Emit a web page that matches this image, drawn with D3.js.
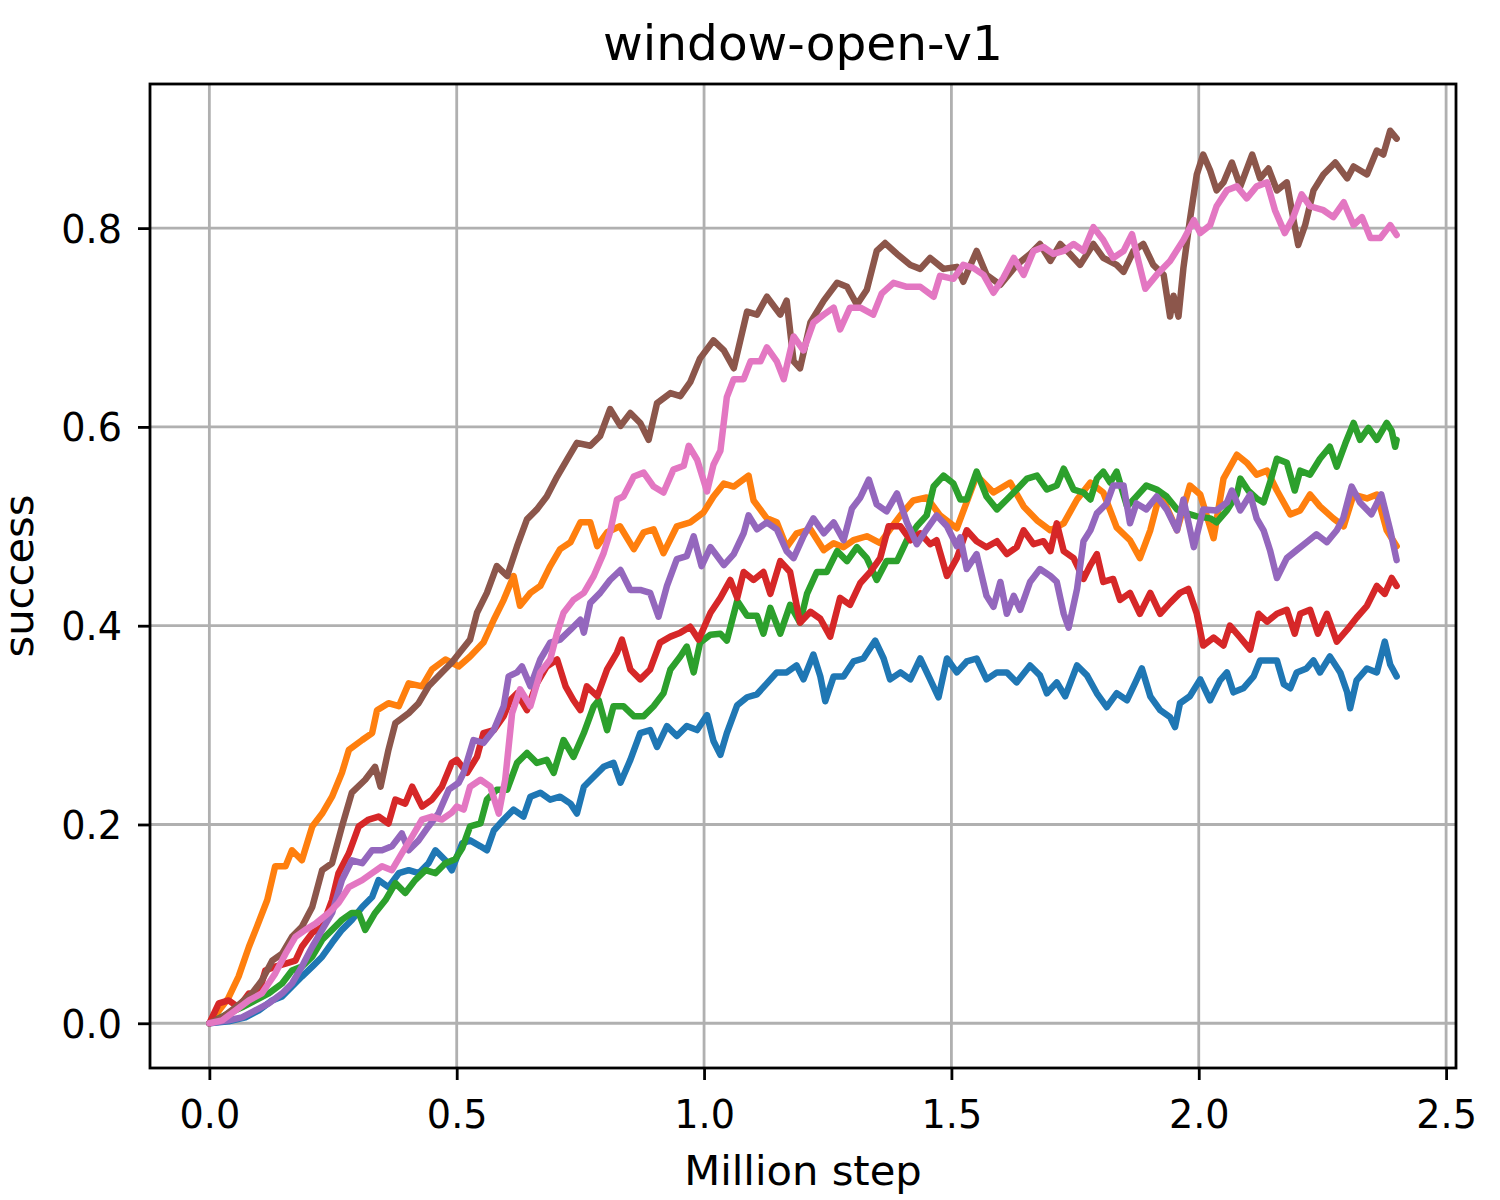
<!DOCTYPE html>
<html><head><meta charset="utf-8">
<script src="https://cdn.jsdelivr.net/npm/d3@7/dist/d3.min.js"></script>
<style>body{margin:0;background:#fff;} text{font-family:"DejaVu Sans",sans-serif;fill:#000;}</style>
</head><body><svg id="c" width="1500" height="1200"></svg>
<script>
const chartTitle = "window-open-v1";
const xLabel = "Million step";
const yLabel = "success";
const xTicks = [0, 0.5, 1.0, 1.5, 2.0, 2.5];
const yTicks = [0, 0.2, 0.4, 0.6, 0.8];
const colors = ["#1f77b4","#ff7f0e","#2ca02c","#d62728","#9467bd","#8c564b","#e377c2"];

const blue = [[0,0],[0.039,0.002],[0.073,0.006],[0.1,0.013],[0.127,0.023],[0.147,0.027],[0.167,0.037],[0.187,0.047],[0.208,0.057],[0.228,0.067],[0.248,0.081],[0.268,0.094],[0.288,0.104],[0.309,0.117],[0.329,0.127],[0.342,0.144],[0.362,0.137],[0.383,0.151],[0.403,0.154],[0.423,0.151],[0.443,0.161],[0.457,0.174],[0.477,0.164],[0.49,0.154],[0.511,0.181],[0.527,0.184],[0.548,0.178],[0.561,0.174],[0.575,0.194],[0.595,0.205],[0.615,0.215],[0.635,0.208],[0.649,0.228],[0.669,0.232],[0.689,0.225],[0.709,0.228],[0.73,0.221],[0.743,0.211],[0.757,0.238],[0.777,0.248],[0.797,0.258],[0.817,0.262],[0.831,0.242],[0.851,0.265],[0.871,0.292],[0.891,0.295],[0.905,0.278],[0.925,0.299],[0.945,0.289],[0.965,0.299],[0.986,0.295],[1.006,0.31],[1.019,0.284],[1.033,0.27],[1.046,0.292],[1.067,0.32],[1.087,0.328],[1.107,0.331],[1.127,0.342],[1.147,0.353],[1.167,0.353],[1.187,0.36],[1.201,0.346],[1.221,0.371],[1.235,0.349],[1.245,0.324],[1.262,0.349],[1.282,0.349],[1.302,0.364],[1.322,0.367],[1.346,0.385],[1.363,0.367],[1.376,0.346],[1.397,0.353],[1.417,0.346],[1.437,0.367],[1.457,0.346],[1.474,0.328],[1.491,0.367],[1.511,0.353],[1.531,0.364],[1.551,0.367],[1.571,0.346],[1.592,0.353],[1.612,0.353],[1.632,0.343],[1.659,0.36],[1.679,0.35],[1.693,0.332],[1.713,0.343],[1.73,0.329],[1.754,0.36],[1.774,0.35],[1.794,0.332],[1.814,0.318],[1.834,0.332],[1.855,0.325],[1.872,0.343],[1.885,0.357],[1.902,0.329],[1.922,0.315],[1.942,0.308],[1.952,0.298],[1.962,0.322],[1.982,0.329],[2.003,0.346],[2.023,0.325],[2.043,0.345],[2.057,0.353],[2.07,0.333],[2.09,0.337],[2.111,0.349],[2.124,0.365],[2.144,0.365],[2.158,0.365],[2.172,0.341],[2.185,0.337],[2.198,0.353],[2.218,0.357],[2.232,0.365],[2.245,0.353],[2.265,0.369],[2.286,0.353],[2.3,0.333],[2.306,0.317],[2.319,0.345],[2.34,0.357],[2.36,0.353],[2.376,0.384],[2.387,0.361],[2.4,0.349]];

const orange = [[0,0],[0.038,0.025],[0.059,0.047],[0.08,0.077],[0.096,0.097],[0.117,0.124],[0.133,0.158],[0.154,0.158],[0.167,0.174],[0.187,0.164],[0.208,0.198],[0.228,0.211],[0.248,0.228],[0.268,0.252],[0.282,0.275],[0.309,0.285],[0.329,0.292],[0.339,0.315],[0.362,0.322],[0.383,0.319],[0.403,0.342],[0.43,0.339],[0.45,0.356],[0.477,0.366],[0.504,0.359],[0.527,0.369],[0.554,0.383],[0.575,0.406],[0.595,0.426],[0.615,0.45],[0.628,0.42],[0.649,0.433],[0.669,0.44],[0.689,0.46],[0.709,0.477],[0.73,0.484],[0.75,0.504],[0.77,0.504],[0.784,0.48],[0.804,0.494],[0.83,0.5],[0.858,0.477],[0.878,0.494],[0.898,0.497],[0.918,0.473],[0.945,0.5],[0.972,0.504],[0.999,0.514],[1.019,0.53],[1.04,0.543],[1.06,0.54],[1.09,0.551],[1.1,0.526],[1.127,0.508],[1.147,0.504],[1.167,0.479],[1.187,0.493],[1.215,0.497],[1.242,0.476],[1.262,0.483],[1.282,0.479],[1.302,0.486],[1.329,0.49],[1.356,0.483],[1.376,0.497],[1.397,0.511],[1.423,0.526],[1.45,0.529],[1.477,0.511],[1.511,0.498],[1.551,0.551],[1.585,0.534],[1.619,0.544],[1.646,0.52],[1.673,0.506],[1.7,0.496],[1.727,0.503],[1.754,0.527],[1.781,0.544],[1.807,0.534],[1.834,0.499],[1.861,0.486],[1.881,0.468],[1.902,0.496],[1.922,0.534],[1.956,0.496],[1.982,0.541],[2.003,0.532],[2.03,0.488],[2.05,0.548],[2.077,0.572],[2.097,0.564],[2.117,0.552],[2.138,0.556],[2.158,0.536],[2.185,0.512],[2.205,0.516],[2.225,0.532],[2.245,0.52],[2.272,0.508],[2.293,0.5],[2.313,0.532],[2.34,0.528],[2.36,0.532],[2.38,0.496],[2.4,0.48]];

const green = [[0,0],[0.039,0.01],[0.066,0.016],[0.093,0.023],[0.12,0.03],[0.147,0.04],[0.167,0.053],[0.187,0.057],[0.208,0.067],[0.228,0.084],[0.248,0.094],[0.268,0.104],[0.288,0.111],[0.302,0.111],[0.315,0.094],[0.335,0.111],[0.356,0.124],[0.376,0.141],[0.396,0.131],[0.416,0.144],[0.437,0.154],[0.457,0.151],[0.477,0.161],[0.497,0.165],[0.511,0.176],[0.527,0.198],[0.548,0.201],[0.561,0.225],[0.581,0.235],[0.602,0.235],[0.622,0.262],[0.642,0.272],[0.662,0.262],[0.682,0.265],[0.696,0.252],[0.716,0.285],[0.736,0.268],[0.757,0.292],[0.777,0.319],[0.787,0.325],[0.804,0.295],[0.817,0.319],[0.837,0.319],[0.858,0.309],[0.878,0.309],[0.898,0.319],[0.918,0.332],[0.932,0.356],[0.952,0.369],[0.965,0.379],[0.979,0.353],[0.992,0.383],[1.013,0.391],[1.033,0.392],[1.046,0.385],[1.067,0.425],[1.087,0.41],[1.107,0.41],[1.12,0.392],[1.134,0.418],[1.154,0.392],[1.174,0.421],[1.194,0.403],[1.208,0.432],[1.228,0.454],[1.248,0.454],[1.269,0.475],[1.289,0.465],[1.309,0.479],[1.329,0.468],[1.349,0.446],[1.369,0.465],[1.39,0.465],[1.41,0.486],[1.43,0.5],[1.45,0.511],[1.464,0.54],[1.484,0.551],[1.504,0.543],[1.518,0.527],[1.531,0.527],[1.551,0.555],[1.571,0.53],[1.592,0.517],[1.612,0.527],[1.632,0.537],[1.653,0.548],[1.673,0.551],[1.693,0.537],[1.713,0.541],[1.727,0.558],[1.747,0.537],[1.767,0.534],[1.781,0.527],[1.794,0.548],[1.807,0.555],[1.821,0.544],[1.834,0.555],[1.855,0.52],[1.874,0.53],[1.894,0.541],[1.915,0.537],[1.935,0.53],[1.956,0.517],[1.976,0.513],[1.996,0.51],[2.023,0.508],[2.036,0.504],[2.057,0.516],[2.077,0.532],[2.084,0.548],[2.1,0.536],[2.117,0.528],[2.131,0.524],[2.144,0.544],[2.158,0.568],[2.178,0.564],[2.194,0.536],[2.205,0.556],[2.225,0.552],[2.245,0.568],[2.265,0.58],[2.279,0.56],[2.296,0.583],[2.313,0.604],[2.326,0.587],[2.343,0.599],[2.36,0.587],[2.38,0.604],[2.39,0.596],[2.397,0.58],[2.4,0.587]];

const red = [[0,0],[0.019,0.02],[0.039,0.023],[0.059,0.016],[0.08,0.03],[0.1,0.03],[0.113,0.053],[0.133,0.057],[0.154,0.06],[0.174,0.063],[0.187,0.077],[0.208,0.091],[0.228,0.097],[0.248,0.124],[0.261,0.151],[0.282,0.171],[0.302,0.198],[0.322,0.205],[0.342,0.208],[0.362,0.201],[0.376,0.225],[0.396,0.221],[0.41,0.238],[0.43,0.218],[0.45,0.225],[0.47,0.238],[0.49,0.262],[0.5,0.265],[0.521,0.252],[0.541,0.268],[0.554,0.292],[0.575,0.295],[0.595,0.309],[0.608,0.325],[0.622,0.332],[0.642,0.315],[0.662,0.342],[0.682,0.359],[0.703,0.366],[0.72,0.339],[0.736,0.325],[0.75,0.315],[0.763,0.339],[0.784,0.329],[0.804,0.356],[0.824,0.373],[0.834,0.386],[0.851,0.356],[0.871,0.346],[0.891,0.356],[0.911,0.383],[0.932,0.389],[0.952,0.393],[0.972,0.399],[0.989,0.386],[1.013,0.413],[1.033,0.428],[1.053,0.446],[1.067,0.428],[1.08,0.454],[1.1,0.446],[1.12,0.454],[1.134,0.432],[1.154,0.465],[1.174,0.454],[1.194,0.403],[1.215,0.414],[1.235,0.407],[1.255,0.389],[1.275,0.428],[1.295,0.421],[1.316,0.443],[1.336,0.454],[1.356,0.468],[1.373,0.5],[1.397,0.5],[1.417,0.486],[1.437,0.493],[1.457,0.482],[1.47,0.486],[1.491,0.45],[1.511,0.468],[1.531,0.496],[1.551,0.485],[1.571,0.479],[1.592,0.485],[1.612,0.472],[1.632,0.479],[1.646,0.496],[1.666,0.482],[1.686,0.485],[1.7,0.475],[1.713,0.503],[1.727,0.475],[1.747,0.468],[1.767,0.447],[1.781,0.461],[1.794,0.472],[1.807,0.444],[1.827,0.447],[1.841,0.426],[1.861,0.433],[1.881,0.412],[1.902,0.433],[1.922,0.412],[1.942,0.423],[1.962,0.433],[1.979,0.437],[1.996,0.412],[2.009,0.38],[2.03,0.388],[2.05,0.38],[2.063,0.4],[2.084,0.388],[2.104,0.376],[2.121,0.412],[2.138,0.404],[2.158,0.412],[2.178,0.416],[2.194,0.392],[2.205,0.412],[2.225,0.416],[2.241,0.392],[2.259,0.412],[2.279,0.384],[2.3,0.396],[2.319,0.408],[2.34,0.42],[2.36,0.44],[2.376,0.432],[2.39,0.448],[2.4,0.44]];

const purple = [[0,0],[0.039,0.003],[0.066,0.006],[0.093,0.013],[0.12,0.02],[0.147,0.03],[0.167,0.04],[0.187,0.057],[0.208,0.077],[0.228,0.094],[0.248,0.111],[0.268,0.144],[0.288,0.164],[0.309,0.161],[0.329,0.174],[0.349,0.174],[0.369,0.178],[0.389,0.191],[0.403,0.174],[0.423,0.184],[0.443,0.198],[0.463,0.211],[0.484,0.235],[0.504,0.242],[0.514,0.252],[0.534,0.285],[0.554,0.282],[0.575,0.295],[0.595,0.319],[0.605,0.349],[0.622,0.353],[0.632,0.359],[0.649,0.339],[0.669,0.366],[0.689,0.383],[0.709,0.386],[0.73,0.396],[0.75,0.406],[0.757,0.393],[0.77,0.423],[0.79,0.433],[0.81,0.446],[0.831,0.456],[0.851,0.436],[0.871,0.436],[0.891,0.433],[0.908,0.409],[0.925,0.44],[0.945,0.467],[0.965,0.47],[0.979,0.49],[0.995,0.46],[1.013,0.479],[1.04,0.461],[1.06,0.472],[1.08,0.493],[1.09,0.511],[1.107,0.497],[1.127,0.504],[1.147,0.497],[1.167,0.475],[1.181,0.468],[1.201,0.49],[1.221,0.508],[1.242,0.493],[1.262,0.504],[1.282,0.486],[1.299,0.518],[1.316,0.529],[1.333,0.547],[1.349,0.522],[1.369,0.515],[1.39,0.533],[1.41,0.504],[1.43,0.482],[1.45,0.497],[1.47,0.511],[1.491,0.5],[1.511,0.48],[1.518,0.489],[1.531,0.457],[1.551,0.472],[1.571,0.43],[1.585,0.419],[1.599,0.444],[1.612,0.412],[1.626,0.43],[1.639,0.416],[1.659,0.444],[1.679,0.457],[1.7,0.45],[1.713,0.444],[1.727,0.412],[1.737,0.398],[1.754,0.437],[1.767,0.485],[1.781,0.496],[1.794,0.513],[1.814,0.523],[1.827,0.541],[1.848,0.541],[1.861,0.503],[1.874,0.523],[1.894,0.517],[1.915,0.53],[1.935,0.517],[1.956,0.496],[1.969,0.527],[1.99,0.479],[2.009,0.517],[2.036,0.516],[2.057,0.524],[2.067,0.536],[2.084,0.516],[2.104,0.532],[2.117,0.508],[2.131,0.496],[2.144,0.476],[2.158,0.448],[2.178,0.468],[2.198,0.476],[2.218,0.484],[2.238,0.492],[2.259,0.484],[2.279,0.496],[2.292,0.508],[2.309,0.54],[2.326,0.524],[2.349,0.512],[2.369,0.532],[2.387,0.496],[2.4,0.466]];

const brown = [[0,0],[0.026,0.006],[0.053,0.016],[0.086,0.03],[0.106,0.043],[0.127,0.063],[0.147,0.07],[0.167,0.087],[0.187,0.097],[0.208,0.117],[0.228,0.154],[0.248,0.161],[0.268,0.198],[0.288,0.232],[0.315,0.245],[0.335,0.258],[0.346,0.238],[0.362,0.275],[0.376,0.302],[0.403,0.312],[0.423,0.322],[0.443,0.339],[0.47,0.353],[0.49,0.363],[0.511,0.376],[0.527,0.386],[0.541,0.413],[0.561,0.433],[0.581,0.46],[0.602,0.45],[0.622,0.48],[0.642,0.507],[0.662,0.517],[0.682,0.53],[0.703,0.55],[0.723,0.567],[0.743,0.584],[0.77,0.581],[0.79,0.591],[0.81,0.618],[0.831,0.601],[0.851,0.614],[0.871,0.604],[0.888,0.587],[0.905,0.624],[0.932,0.634],[0.952,0.631],[0.972,0.645],[0.992,0.669],[1.019,0.687],[1.04,0.677],[1.06,0.659],[1.087,0.716],[1.107,0.713],[1.127,0.731],[1.154,0.713],[1.167,0.727],[1.181,0.666],[1.194,0.659],[1.215,0.705],[1.242,0.727],[1.269,0.745],[1.289,0.741],[1.309,0.723],[1.329,0.738],[1.349,0.777],[1.366,0.785],[1.39,0.774],[1.417,0.763],[1.437,0.759],[1.457,0.77],[1.484,0.759],[1.511,0.761],[1.524,0.746],[1.551,0.777],[1.571,0.753],[1.599,0.743],[1.632,0.763],[1.659,0.774],[1.679,0.784],[1.7,0.767],[1.72,0.784],[1.74,0.774],[1.76,0.763],[1.787,0.784],[1.807,0.77],[1.834,0.763],[1.848,0.756],[1.868,0.777],[1.888,0.784],[1.908,0.763],[1.929,0.753],[1.942,0.711],[1.949,0.732],[1.959,0.711],[1.969,0.76],[1.982,0.808],[1.996,0.854],[2.009,0.874],[2.023,0.858],[2.036,0.838],[2.05,0.846],[2.067,0.866],[2.084,0.842],[2.108,0.874],[2.124,0.85],[2.141,0.86],[2.158,0.838],[2.178,0.846],[2.188,0.818],[2.201,0.783],[2.215,0.803],[2.232,0.838],[2.252,0.854],[2.276,0.866],[2.3,0.85],[2.313,0.862],[2.34,0.854],[2.36,0.878],[2.373,0.874],[2.387,0.898],[2.4,0.89]];

const pink = [[0,0],[0.026,0.003],[0.053,0.013],[0.08,0.023],[0.106,0.03],[0.133,0.05],[0.154,0.07],[0.174,0.087],[0.194,0.094],[0.214,0.1],[0.241,0.111],[0.261,0.121],[0.282,0.137],[0.309,0.144],[0.329,0.151],[0.349,0.158],[0.369,0.154],[0.389,0.171],[0.41,0.188],[0.43,0.205],[0.45,0.208],[0.47,0.205],[0.49,0.212],[0.5,0.218],[0.514,0.215],[0.527,0.238],[0.548,0.245],[0.568,0.238],[0.585,0.211],[0.598,0.245],[0.612,0.312],[0.628,0.336],[0.649,0.319],[0.669,0.353],[0.689,0.366],[0.703,0.393],[0.716,0.413],[0.736,0.426],[0.757,0.433],[0.777,0.45],[0.797,0.473],[0.81,0.494],[0.824,0.527],[0.837,0.53],[0.858,0.55],[0.878,0.554],[0.898,0.54],[0.918,0.534],[0.938,0.557],[0.959,0.561],[0.969,0.581],[0.986,0.567],[1.006,0.535],[1.019,0.562],[1.033,0.576],[1.046,0.63],[1.06,0.648],[1.08,0.648],[1.094,0.666],[1.114,0.666],[1.127,0.68],[1.147,0.666],[1.161,0.648],[1.181,0.691],[1.201,0.677],[1.221,0.705],[1.242,0.713],[1.262,0.72],[1.275,0.698],[1.295,0.72],[1.316,0.72],[1.342,0.713],[1.359,0.734],[1.383,0.745],[1.41,0.741],[1.437,0.741],[1.464,0.731],[1.477,0.752],[1.504,0.749],[1.524,0.763],[1.544,0.76],[1.565,0.753],[1.585,0.735],[1.605,0.75],[1.626,0.77],[1.646,0.753],[1.666,0.777],[1.686,0.781],[1.706,0.774],[1.727,0.777],[1.747,0.784],[1.767,0.777],[1.787,0.801],[1.807,0.788],[1.827,0.77],[1.848,0.777],[1.865,0.794],[1.878,0.767],[1.892,0.739],[1.915,0.753],[1.942,0.767],[1.969,0.788],[1.99,0.808],[2.003,0.795],[2.023,0.803],[2.036,0.822],[2.057,0.838],[2.077,0.842],[2.097,0.83],[2.117,0.842],[2.138,0.846],[2.154,0.818],[2.174,0.795],[2.191,0.811],[2.208,0.834],[2.225,0.822],[2.252,0.818],[2.272,0.811],[2.293,0.826],[2.313,0.803],[2.33,0.811],[2.347,0.79],[2.367,0.79],[2.387,0.803],[2.4,0.793]];

const seriesList = [blue, orange, green, red, purple, brown, pink];

const W = 1500, H = 1200;
const L = 150, R = 1456, T = 84, B = 1068;
const x = d3.scaleLinear().domain([-0.12, 2.52]).range([L, R]);
const y = d3.scaleLinear().domain([-0.045, 0.945]).range([B, T]);

const svg = d3.select("#c");
svg.append("rect").attr("width", W).attr("height", H).attr("fill", "#fff");

svg.append("defs").append("clipPath").attr("id", "clip")
  .append("rect").attr("x", L).attr("y", T).attr("width", R - L).attr("height", B - T);

// grid
const grid = svg.append("g");
grid.selectAll("line.gx").data(xTicks).enter().append("line")
  .attr("x1", d => x(d)).attr("x2", d => x(d)).attr("y1", T).attr("y2", B)
  .attr("stroke", "#b0b0b0").attr("stroke-width", 2.8);
grid.selectAll("line.gy").data(yTicks).enter().append("line")
  .attr("y1", d => y(d)).attr("y2", d => y(d)).attr("x1", L).attr("x2", R)
  .attr("stroke", "#b0b0b0").attr("stroke-width", 2.8);

// lines
const line = d3.line().x(d => x(d[0])).y(d => y(d[1]));
svg.append("g").attr("clip-path", "url(#clip)")
  .selectAll("path").data(seriesList).enter().append("path")
  .attr("d", line).attr("fill", "none")
  .attr("stroke", (d, i) => colors[i]).attr("stroke-width", 6.5)
  .attr("stroke-linejoin", "round").attr("stroke-linecap", "round");

// axes
const fmt = d3.format(".1f");
const xAxis = d3.axisBottom(x).tickValues(xTicks).tickFormat(fmt).tickSizeInner(12).tickSizeOuter(0).tickPadding(12);
const yAxis = d3.axisLeft(y).tickValues(yTicks).tickFormat(fmt).tickSizeInner(12).tickSizeOuter(0).tickPadding(12);
const gx = svg.append("g").attr("transform", `translate(0,${B})`).call(xAxis);
const gy = svg.append("g").attr("transform", `translate(${L},0)`).call(yAxis);
[gx, gy].forEach(g => {
  g.select(".domain").remove();
  g.selectAll(".tick line").attr("stroke", "#000").attr("stroke-width", 2.8);
  g.selectAll(".tick text").attr("font-family", "DejaVu Sans").attr("font-size", 38.2).attr("fill", "#000");
});
gx.selectAll(".tick text").attr("dy", null).attr("y", 60);
gy.selectAll(".tick text").attr("dy", null).attr("y", 14).attr("x", -28);

// spines
svg.append("rect").attr("x", L).attr("y", T).attr("width", R - L).attr("height", B - T)
  .attr("fill", "none").attr("stroke", "#000").attr("stroke-width", 2.8);

// texts
svg.append("text").attr("x", (L + R) / 2).attr("y", 60).attr("text-anchor", "middle")
  .attr("font-size", 48.6).text(chartTitle);
svg.append("text").attr("x", (L + R) / 2).attr("y", 1185).attr("text-anchor", "middle")
  .attr("font-size", 41.7).text(xLabel);
svg.append("text").attr("transform", `translate(33,${(T + B) / 2}) rotate(-90)`).attr("text-anchor", "middle")
  .attr("font-size", 41.7).text(yLabel);
</script></body></html>
